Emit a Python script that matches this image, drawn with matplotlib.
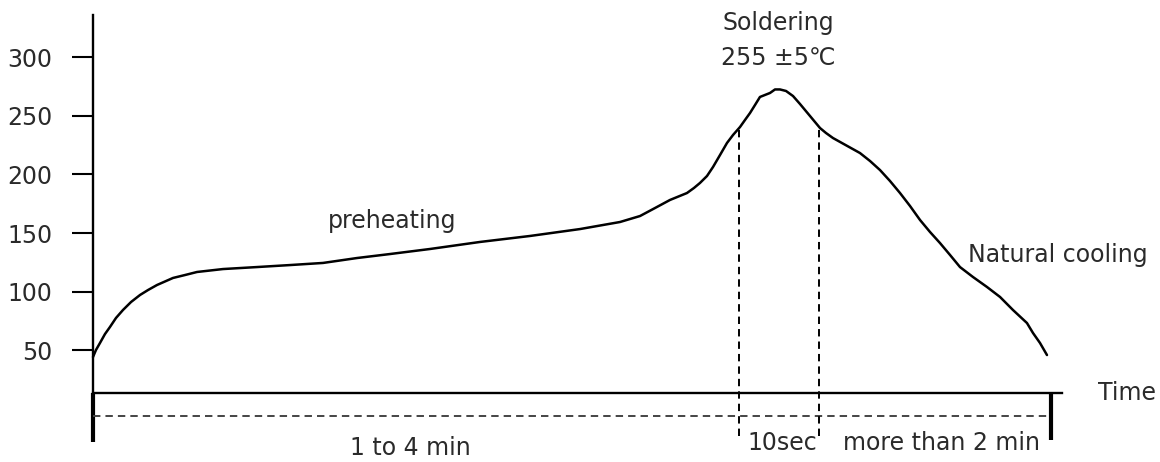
"""Reflow soldering temperature profile (preheating / soldering / natural cooling)."""

import numpy as np
import matplotlib
matplotlib.use("Agg")
import matplotlib.pyplot as plt

# profile: time in arbitrary units (0..100), temperature in deg C
time_pts = [0, 0.31, 0.73, 1.25, 1.77, 2.40, 3.13, 3.97, 4.91, 5.74, 6.68, 8.35,
            9.60, 10.86, 13.57, 17.12, 20.56, 24.01, 27.56, 31.0, 35.18, 40.4,
            45.62, 50.84, 55.01, 57.1, 58.66, 60.23, 62.0, 62.73, 63.36, 64.09,
            64.72, 65.45, 66.18, 66.81, 67.54, 68.06, 68.58, 69.1, 69.62, 70.67,
            71.19, 71.71, 72.34, 73.07, 73.8, 74.84, 75.89, 76.51, 77.24, 80.06,
            81.11, 82.15, 83.19, 84.24, 85.28, 86.33, 87.37, 88.41, 89.46, 90.5,
            91.86, 93.32, 94.68, 96.03, 97.49, 98.12, 98.85, 99.58]
temp_pts = [44.4, 50.4, 56.4, 64.0, 70.0, 77.7, 84.5, 91.3, 97.3, 101.5, 105.8, 111.8,
            114.3, 116.9, 119.4, 121.1, 122.8, 124.6, 128.8, 132.2, 136.5, 142.5,
            147.6, 153.5, 159.5, 164.6, 171.4, 178.3, 184.2, 188.5, 192.8, 198.7,
            206.4, 216.6, 226.9, 233.7, 240.5, 246.5, 252.4, 259.2, 266.1, 269.5,
            272.5, 272.5, 271.2, 266.9, 260.1, 249.9, 239.6, 235.4, 231.1, 218.3,
            211.5, 203.8, 194.5, 184.2, 173.2, 161.2, 151.0, 141.6, 131.4, 121.1,
            112.6, 104.1, 95.6, 84.5, 73.4, 64.9, 56.4, 46.1]

temp_ticks = [50, 100, 150, 200, 250, 300]
solder_window = [67.4, 75.8]      # start / end of the 10 s soldering window
t_end = 100                       # end of the cooling period

# vertical levels of the time axis and the phase bracket below it
time_axis_y = 13.7
bracket_y = -5.9
bracket_bottom = -28.0
dash_bottom = -22.9
axis_top = 336.0

TXT = "#2a2a2a"
FS = 17

fig = plt.figure(figsize=(11.6, 4.62), dpi=100)
ax = fig.add_axes([93 / 1160, 12 / 462, 958 / 1160, 440 / 462])
ax.set_xlim(0, 100)
ax.set_ylim(348.75 - 0.85245 * 450, 348.75 - 0.85245 * 10)
for s in ax.spines.values():
    s.set_visible(False)

# the temperature curve
ax.plot(time_pts, temp_pts, color="black", lw=1.8, clip_on=False,
        solid_capstyle="round", solid_joinstyle="round")

# y axis: thin above the time axis, heavy below it
ax.plot([0, 0], [time_axis_y, axis_top], color="black", lw=1.7, clip_on=False)
ax.plot([0, 0], [bracket_bottom, time_axis_y], color="black", lw=3.0,
        clip_on=False, solid_capstyle="butt")

# time axis and end-of-cooling bar
ax.plot([0, 101.1], [time_axis_y, time_axis_y], color="black", lw=1.7,
        clip_on=False)
ax.plot([t_end, t_end], [bracket_bottom + 2, time_axis_y], color="black", lw=3.0,
        clip_on=False, solid_capstyle="butt")

# phase bracket (dashed) and soldering window markers
ax.plot([0, t_end - 0.4], [bracket_y, bracket_y], color="#444444", lw=1.4,
        ls=(0, (3.8, 2.6)), clip_on=False)
for t in solder_window:
    top = np.interp(t, time_pts, temp_pts)
    ax.plot([t, t], [dash_bottom, top], color="black", lw=1.4,
            ls=(0, (3.8, 2.6)), clip_on=False)

ax.set_xticks([])
ax.set_yticks(temp_ticks)
ax.set_yticklabels([str(v) for v in temp_ticks])
ax.tick_params(axis="y", direction="out", length=15, width=1.5, pad=14,
               labelsize=FS, labelcolor=TXT)

# annotations
ax.text(71.5, 323.5, "Soldering", ha="center", va="baseline", fontsize=FS,
        color=TXT)
ax.text(71.5, 293.3, "255 \u00b15\u2103", ha="center", va="baseline",
        fontsize=FS, color=TXT)
ax.text(24.5, 154.4, "preheating", ha="left", va="baseline", fontsize=FS,
        color=TXT)
ax.text(91.3, 125.4, "Natural cooling", ha="left", va="baseline", fontsize=FS,
        color=TXT, clip_on=False)
ax.text(104.9, 7.8, "Time", ha="left", va="baseline", fontsize=FS, color=TXT,
        clip_on=False)
ax.text(26.8, -39.5, "1 to 4 min", ha="left", va="baseline", fontsize=FS,
        color=TXT, clip_on=False)
ax.text(68.3, -34.5, "10sec", ha="left", va="baseline", fontsize=FS,
        color=TXT, clip_on=False)
ax.text(78.3, -34.5, "more than 2 min", ha="left", va="baseline", fontsize=FS,
        color=TXT, clip_on=False)

fig.savefig("out.png", dpi=100)
plt.close(fig)
